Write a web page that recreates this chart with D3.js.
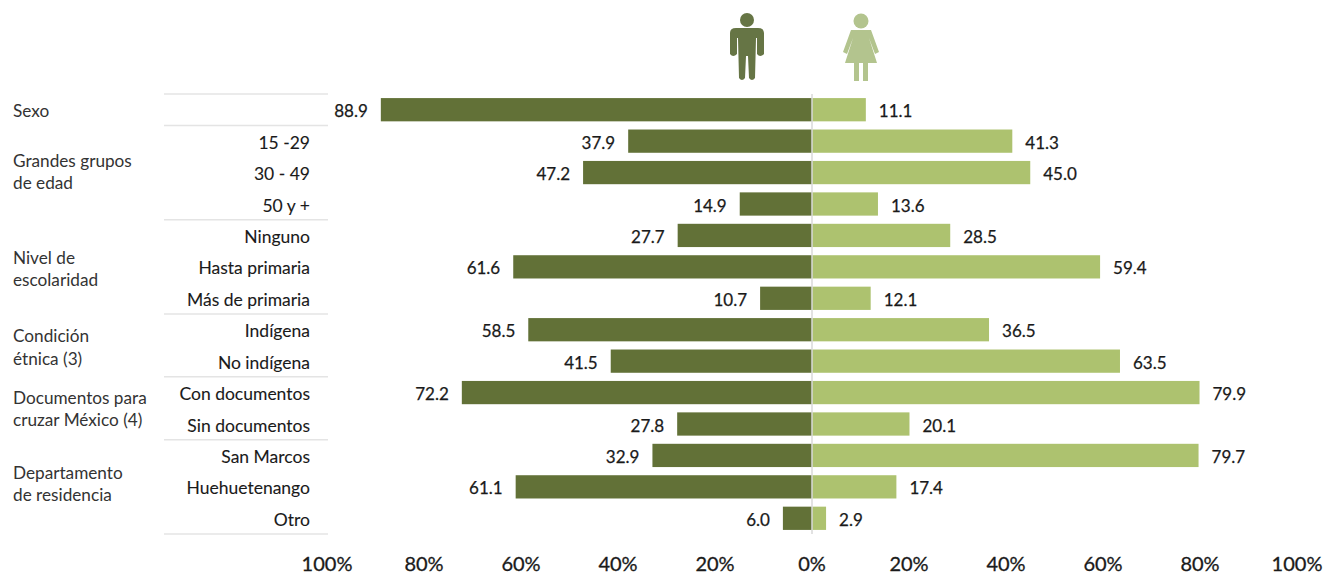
<!DOCTYPE html>
<html>
<head>
<meta charset="utf-8">
<script src="https://cdn.jsdelivr.net/npm/d3@7"></script>
<style>
  html, body { margin: 0; padding: 0; background: #fff; }
  text { font-family: Lato, "Open Sans", sans-serif; fill: #1a1a1a; }
</style>
</head>
<body>
<div id="chart"></div>
<script>
var categories = ["Sexo", "15 -29", "30 - 49", "50 y +", "Ninguno", "Hasta primaria", "Más de primaria",
  "Indígena", "No indígena", "Con documentos", "Sin documentos", "San Marcos", "Huehuetenango", "Otro"];
var hombres = [88.9, 37.9, 47.2, 14.9, 27.7, 61.6, 10.7, 58.5, 41.5, 72.2, 27.8, 32.9, 61.1, 6.0];
var mujeres = [11.1, 41.3, 45.0, 13.6, 28.5, 59.4, 12.1, 36.5, 63.5, 79.9, 20.1, 79.7, 17.4, 2.9];
var ticks = [100, 80, 60, 40, 20, 0, 20, 40, 60, 80, 100];
// groups: label lines, first and last row
var groupLabels = [["Sexo"], ["Grandes grupos", "de edad"], ["Nivel de", "escolaridad"],
  ["Condición", "étnica (3)"], ["Documentos para", "cruzar México (4)"], ["Departamento", "de residencia"]];
var groupFirst = [0, 1, 4, 7, 9, 11];
var groupLast = [0, 3, 6, 8, 10, 13];

var width = 1324, height = 574;
var darkGreen = "#627137", lightGreen = "#adc26f";

var svg = d3.select("#chart").append("svg")
  .attr("width", width)
  .attr("height", height)
  .style("display", "block");

var xLeft = d3.scaleLinear().domain([0, 100]).range([812, 327]);
var xRight = d3.scaleLinear().domain([0, 100]).range([812, 1297]);
var y = d3.scaleBand().domain(d3.range(categories.length)).range([94, 534]).paddingInner(0.26).paddingOuter(0.13);

function bandTop(i) {
  return 94 + i * y.step();
}

// separators on the left table
var seps = [0].concat(groupLast.map(function(d) { return d + 1; }));
svg.selectAll("line.sep")
  .data(seps)
  .enter().append("line")
  .attr("class", "sep")
  .attr("x1", 164)
  .attr("x2", 328)
  .attr("y1", function(d) { return bandTop(d); })
  .attr("y2", function(d) { return bandTop(d); })
  .attr("stroke", "#e4e4e4")
  .attr("stroke-width", 1.5);

// bars
categories.forEach(function(c, i) {
  var mid = y(i) + y.bandwidth() / 2;
  svg.append("rect")
    .attr("x", xLeft(hombres[i]))
    .attr("y", y(i))
    .attr("width", xLeft(0) - xLeft(hombres[i]))
    .attr("height", y.bandwidth())
    .attr("fill", darkGreen);
  svg.append("rect")
    .attr("x", xRight(0))
    .attr("y", y(i))
    .attr("width", xRight(mujeres[i]) - xRight(0))
    .attr("height", y.bandwidth())
    .attr("fill", lightGreen);

  svg.append("text")
    .attr("x", xLeft(hombres[i]) - 13)
    .attr("y", mid + 7.5)
    .attr("text-anchor", "end")
    .style("font-size", "17px")
    .style("stroke", "#1a1a1a")
    .style("stroke-width", 0.25)
    .text(hombres[i].toFixed(1));
  svg.append("text")
    .attr("x", xRight(mujeres[i]) + 13)
    .attr("y", mid + 7.5)
    .style("font-size", "17px")
    .style("stroke", "#1a1a1a")
    .style("stroke-width", 0.25)
    .text(mujeres[i].toFixed(1));

  if (i > 0) {
    svg.append("text")
      .attr("x", 310)
      .attr("y", mid + 7.5)
      .attr("text-anchor", "end")
      .style("font-size", "17.5px")
      .style("stroke", "#1a1a1a")
      .style("stroke-width", 0.1)
      .text(c);
  }
});

// centre line
svg.append("line")
  .attr("x1", xLeft(0))
  .attr("x2", xLeft(0))
  .attr("y1", 94)
  .attr("y2", 534)
  .attr("stroke", "#d9d9d9")
  .attr("stroke-width", 1.5);

// group labels
var nudge = [1, -0.5, 2, 2, 0.5, -3];
groupLabels.forEach(function(lines, i) {
  var mid = (bandTop(groupFirst[i]) + bandTop(groupLast[i] + 1)) / 2;
  lines.forEach(function(l, j) {
    svg.append("text")
      .attr("x", 13)
      .attr("y", mid + 6 + nudge[i] + (j - (lines.length - 1) / 2) * 22.5)
      .style("font-size", "17.2px")
      .style("fill", "#333")
      .text(l);
  });
});

// axis labels
ticks.forEach(function(t, i) {
  var px = i < 5 ? xLeft(t) : xRight(t);
  svg.append("text")
    .attr("x", px)
    .attr("y", 571)
    .attr("text-anchor", "middle")
    .style("font-size", "20px")
    .style("stroke", "#1a1a1a")
    .style("stroke-width", 0.3)
    .text(t + "%");
});

// man icon
var man = svg.append("g").attr("transform", "translate(747,0)").attr("fill", "#667545");
man.append("circle").attr("cx", 0).attr("cy", 20).attr("r", 7);
man.append("path").attr("d", "M-11,28 L11,28 Q17,28 17,33 L17,54 Q13,58 10,54 L10,38 L9,38 L8,78 Q5,82 2,78 L1,56 L-1,56 L-2,78 Q-5,82 -8,78 L-9,38 L-10,38 L-10,54 Q-14,58 -17,54 L-17,33 Q-17,28 -11,28 Z");

// woman icon
var woman = svg.append("g").attr("transform", "translate(861,0)").attr("fill", "#b3c48e");
woman.append("circle").attr("cx", 0).attr("cy", 21).attr("r", 7.5);
woman.append("path").attr("d", "M-10,30 L10,30 L18,52 L14,54 L8,38 L16,63 L7,63 L7,81 L2,81 L2,63 L-2,63 L-2,81 L-7,81 L-7,63 L-16,63 L-8,38 L-14,54 L-18,52 Z");
</script>
</body>
</html>
